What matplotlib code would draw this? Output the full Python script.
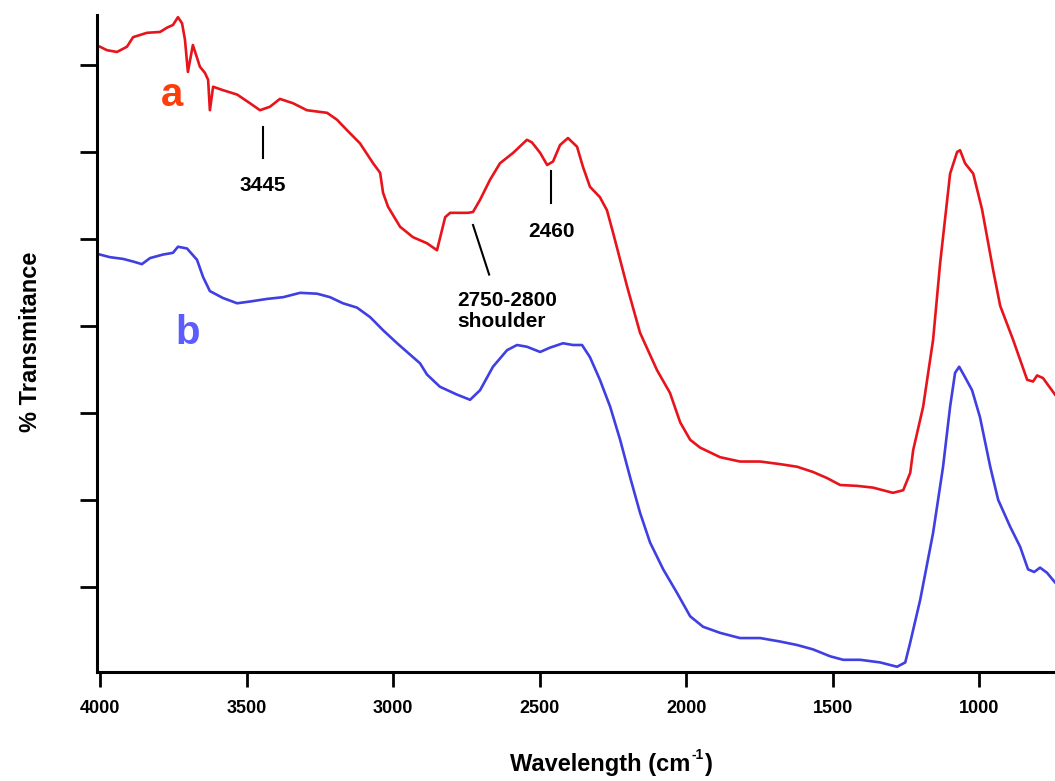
import matplotlib.pyplot as plt

# FTIR spectra, wavenumber (cm-1) vs stacked transmittance
wn_a = [4000, 3976, 3942, 3908, 3887, 3840, 3795, 3771, 3751, 3734, 3720, 3710,
        3700, 3683, 3659, 3642, 3631, 3625, 3614, 3580, 3532, 3488, 3454, 3420,
        3386, 3341, 3294, 3225, 3191, 3157, 3113, 3068, 3044, 3034, 3017, 2976,
        2932, 2884, 2850, 2822, 2805, 2744, 2727, 2703, 2669, 2635, 2590, 2543,
        2526, 2498, 2474, 2454, 2430, 2403, 2372, 2352, 2328, 2294, 2270, 2249,
        2201, 2157, 2099, 2055, 2020, 1986, 1952, 1884, 1816, 1747, 1679, 1621,
        1567, 1519, 1474, 1416, 1362, 1294, 1259, 1235, 1225, 1191, 1157, 1133,
        1099, 1075, 1065, 1048, 1020, 990, 952, 928, 884, 836, 816, 802, 782, 741]
t_a = [7.21, 7.17, 7.15, 7.21, 7.32, 7.37, 7.38, 7.43, 7.46, 7.55, 7.48, 7.29,
       6.92, 7.23, 6.98, 6.91, 6.83, 6.48, 6.75, 6.71, 6.66, 6.56, 6.48, 6.52,
       6.61, 6.56, 6.48, 6.45, 6.37, 6.25, 6.10, 5.87, 5.76, 5.53, 5.37, 5.14,
       5.02, 4.95, 4.87, 5.25, 5.30, 5.30, 5.31, 5.45, 5.68, 5.87, 5.99, 6.14,
       6.11, 5.99, 5.85, 5.89, 6.08, 6.16, 6.06, 5.83, 5.60, 5.48, 5.33, 5.07,
       4.45, 3.92, 3.49, 3.23, 2.89, 2.69, 2.60, 2.49, 2.44, 2.44, 2.41, 2.38,
       2.32, 2.25, 2.17, 2.16, 2.14, 2.08, 2.11, 2.31, 2.57, 3.07, 3.84, 4.72,
       5.75, 6.00, 6.02, 5.87, 5.75, 5.34, 4.64, 4.23, 3.84, 3.38, 3.36, 3.43,
       3.40, 3.21]

wn_b = [4000, 3966, 3921, 3887, 3857, 3829, 3785, 3751, 3734, 3703, 3669, 3648,
        3625, 3580, 3532, 3488, 3430, 3375, 3317, 3259, 3215, 3171, 3123, 3078,
        3034, 2986, 2942, 2908, 2884, 2840, 2782, 2737, 2703, 2659, 2611, 2577,
        2543, 2498, 2464, 2420, 2386, 2355, 2328, 2294, 2259, 2225, 2191, 2157,
        2123, 2078, 2031, 1986, 1942, 1884, 1816, 1747, 1679, 1621, 1567, 1508,
        1464, 1406, 1338, 1280, 1252, 1235, 1201, 1157, 1123, 1099, 1082, 1068,
        1048, 1024, 997, 962, 935, 894, 860, 833, 812, 792, 768, 741]
t_b = [4.82, 4.79, 4.77, 4.74, 4.71, 4.78, 4.82, 4.84, 4.91, 4.89, 4.76, 4.56,
       4.40, 4.32, 4.26, 4.28, 4.31, 4.33, 4.38, 4.37, 4.33, 4.26, 4.21, 4.10,
       3.95, 3.80, 3.67, 3.57, 3.44, 3.30, 3.21, 3.15, 3.26, 3.53, 3.72, 3.78,
       3.76, 3.70, 3.75, 3.80, 3.78, 3.78, 3.64, 3.38, 3.07, 2.69, 2.26, 1.85,
       1.51, 1.20, 0.93, 0.66, 0.54, 0.47, 0.41, 0.41, 0.37, 0.33, 0.28, 0.20,
       0.16, 0.16, 0.13, 0.08, 0.13, 0.36, 0.85, 1.62, 2.38, 3.07, 3.46, 3.53,
       3.41, 3.26, 2.95, 2.38, 2.00, 1.69, 1.46, 1.20, 1.17, 1.22, 1.16, 1.05]

x_ticks = [4000, 3500, 3000, 2500, 2000, 1500, 1000]

plt.rcParams['font.family'] = ['Liberation Sans', 'DejaVu Sans']
plt.rcParams['font.weight'] = 'bold'

fig = plt.figure(figsize=(10.55, 7.81), dpi=100)
ax = fig.add_axes([0.092, 0.1396, 0.908, 0.8412])

ax.plot(wn_a, t_a, color='#e8141c', lw=1.9)
ax.plot(wn_b, t_b, color='#3f3fe2', lw=1.9)

ax.set_xlim(4010, 741)
ax.set_ylim(0.02, 7.575)
ax.set_xticks(x_ticks)
ax.set_yticks(range(1, 8))
ax.set_yticklabels([])

for side in ['top', 'right']:
    ax.spines[side].set_visible(False)
for side in ['left', 'bottom']:
    ax.spines[side].set_linewidth(2.2)
ax.tick_params(axis='y', direction='out', length=12, width=2)
ax.tick_params(axis='x', direction='out', length=11, width=2, pad=9, labelsize=13)

# series letters
ax.text(3754, 6.66, 'a', color='#ff3d0a', fontsize=29, ha='center', va='center')
ax.text(3700, 3.92, 'b', color='#5c5cff', fontsize=29, ha='center', va='center')

# band markers
ax.plot([3445, 3445], [6.29, 5.93], color='black', lw=1.5)
ax.text(3445, 5.62, '3445', fontsize=15, ha='center', va='center')
ax.plot([2460, 2460], [5.78, 5.41], color='black', lw=1.5)
ax.text(2460, 5.08, '2460', fontsize=15, ha='center', va='center')
ax.plot([2727, 2672], [5.16, 4.59], color='black', lw=1.5)
ax.text(2780, 4.17, '2750-2800\nshoulder', fontsize=15,
        ha='left', va='center', linespacing=1.1)

# x label with a small "-1" superscript
renderer = fig.canvas.get_renderer()
lx, ly = 510 / 1055, 1 - 764 / 781
part1 = fig.text(lx, ly, 'Wavelength (cm', fontsize=17, ha='left', va='center')
bb = part1.get_window_extent(renderer).transformed(fig.transFigure.inverted())
sup = fig.text(bb.x1 + 0.001, ly + 0.012, '-1', fontsize=10, ha='left', va='center')
bb2 = sup.get_window_extent(renderer).transformed(fig.transFigure.inverted())
fig.text(bb2.x1 + 0.001, ly, ')', fontsize=17, ha='left', va='center')

fig.text(31 / 1055, 1 - 342 / 781, '% Transmitance', fontsize=17,
         rotation=90, ha='center', va='center')

fig.savefig('out.png', dpi=100)
